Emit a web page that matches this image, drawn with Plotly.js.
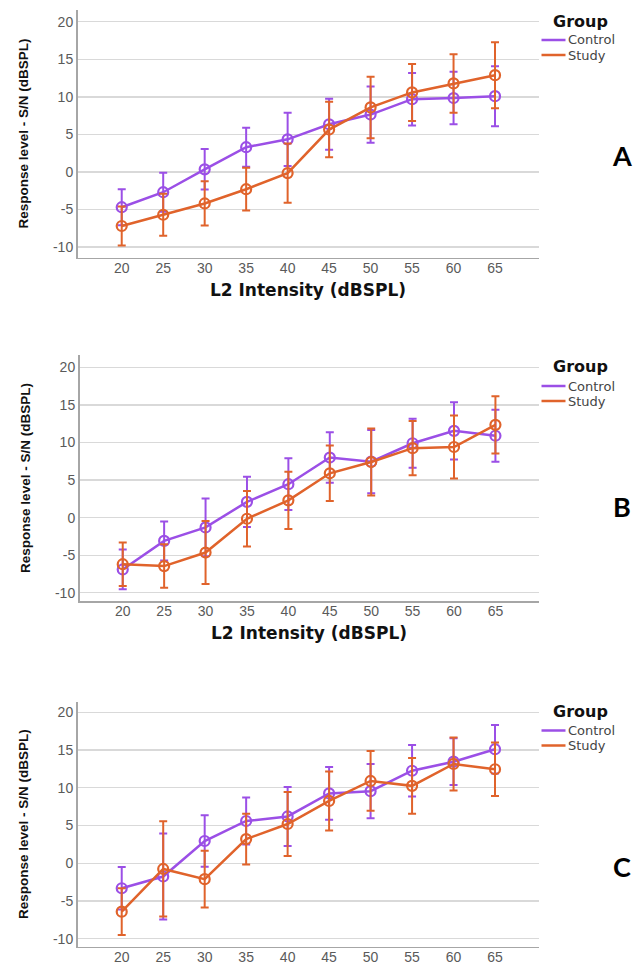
<!DOCTYPE html>
<html><head><meta charset="utf-8">
<script src="https://cdn.plot.ly/plotly-3.0.1.min.js"></script>
<style>html,body{margin:0;padding:0;background:#fff}#chart{width:638px;height:964px}</style>
</head><body><div id="chart"></div>
<script>
// ---- data ----
const intensity = [20, 25, 30, 35, 40, 45, 50, 55, 60, 65];
const yTickVals = [-10, -5, 0, 5, 10, 15, 20];
const yTickText = ['-10', '-5', '0', '5', '10', '15', '20'];
const groupNames = ['Control', 'Study'];
const panelLetters = ['A', 'B', 'C'];

const controlA     = [-4.7, -2.7, 0.35, 3.3, 4.35, 6.35, 7.65, 9.7, 9.85, 10.1];
const controlA_err = [2.4, 2.6, 2.7, 2.6, 3.55, 3.4, 3.75, 3.5, 3.5, 4.0];
const studyA       = [-7.2, -5.7, -4.2, -2.3, -0.15, 5.65, 8.6, 10.6, 11.8, 12.9];
const studyA_err   = [2.6, 2.8, 2.95, 2.85, 3.95, 3.7, 4.1, 3.8, 3.9, 4.4];

const controlB     = [-6.9, -3.1, -1.3, 2.1, 4.45, 8.0, 7.45, 9.9, 11.55, 10.9];
const controlB_err = [2.65, 2.6, 3.85, 3.35, 3.45, 3.35, 4.2, 3.25, 3.8, 3.45];
const studyB       = [-6.2, -6.45, -4.65, -0.15, 2.3, 5.9, 7.4, 9.25, 9.4, 12.35];
const studyB_err   = [2.9, 2.9, 4.2, 3.7, 3.8, 3.7, 4.45, 3.6, 4.2, 3.8];

const controlC     = [-3.3, -1.75, 2.95, 5.6, 6.2, 9.25, 9.55, 12.25, 13.45, 15.1];
const controlC_err = [2.8, 5.7, 3.4, 3.1, 3.9, 3.5, 3.6, 3.4, 3.1, 3.2];
const studyC       = [-6.4, -0.75, -2.1, 3.2, 5.2, 8.25, 10.9, 10.25, 13.15, 12.45];
const studyC_err   = [3.1, 6.3, 3.75, 3.35, 4.25, 3.9, 3.95, 3.7, 3.5, 3.55];

const xTitle = 'L2 Intensity (dBSPL)';
const yTitle = 'Response level - S/N (dBSPL)';

// ---- styling ----
const W = 638, H = 964;
const PURPLE = '#9b4fe6', ORANGE = '#e0632b';
const px = x => x / W;
const py = y => 1 - y / H;

const panels = [
  {ctl: controlA, ctlE: controlA_err, st: studyA, stE: studyA_err,
   x0: 77.5, x1: 538.5, y0: 9.5, y1: 257.5, yr: [-11.4, 21.65], xr: [14.67, 70.24],
   leg: [21.5, 40, 55], letterY: 156, showX: true},
  {ctl: controlB, ctlE: controlB_err, st: studyB, stE: studyB_err,
   x0: 79.5, x1: 538.5, y0: 355, y1: 601, yr: [-11.1, 21.65], xr: [14.78, 70.2],
   leg: [366.7, 386, 401], letterY: 506.5, showX: true},
  {ctl: controlC, ctlE: controlC_err, st: studyC, stE: studyC_err,
   x0: 77.5, x1: 538.5, y0: 701.7, y1: 946.7, yr: [-11.04, 21.39], xr: [14.67, 70.24],
   leg: [711.7, 730.5, 745.5], letterY: 866.5, showX: false}
];

const traces = [];
const layout = {
  width: W, height: H,
  margin: {l: 0, r: 0, t: 0, b: 0},
  paper_bgcolor: '#ffffff', plot_bgcolor: '#ffffff',
  showlegend: false,
  font: {family: 'Liberation Sans, Arial, sans-serif', color: '#555'},
  annotations: [], shapes: []
};

panels.forEach((p, i) => {
  const n = i === 0 ? '' : String(i + 1);
  const xa = 'x' + n, ya = 'y' + n;
  [[p.ctl, p.ctlE, PURPLE, groupNames[0]], [p.st, p.stE, ORANGE, groupNames[1]]].forEach(([vals, errs, col, name]) => {
    traces.push({
      type: 'scatter', mode: 'lines+markers', name: name,
      x: intensity, y: vals, xaxis: xa, yaxis: ya,
      line: {color: col, width: 2.5},
      marker: {symbol: 'circle-open', size: 10, color: col, line: {width: 2.2, color: col}},
      error_y: {type: 'data', array: errs, visible: true, color: col, thickness: 2, width: 4}
    });
  });
  layout['xaxis' + n] = {
    domain: [px(p.x0), px(p.x1)], range: p.xr, anchor: ya,
    tickvals: intensity, ticktext: intensity.map(String),
    showgrid: false, zeroline: false, showline: true, linecolor: '#a6a6a6', linewidth: 1.5,
    ticks: '', ticklabelstandoff: -3,
    tickfont: {size: 14, color: '#5a5a5a', family: 'Liberation Sans, Arial, sans-serif'},
    title: p.showX ? {text: xTitle, standoff: 9,
      font: {family: 'DejaVu Sans, Verdana, sans-serif', size: 17, color: '#111', weight: 'bold'}} : {text: ''},
    fixedrange: true
  };
  layout['yaxis' + n] = {
    domain: [py(p.y1), py(p.y0)], range: p.yr, anchor: xa,
    tickvals: yTickVals, ticktext: yTickText,
    showgrid: true, gridcolor: '#d9d9d9', gridwidth: 1.2,
    zeroline: false, showline: true, linecolor: '#a6a6a6', linewidth: 1.5,
    ticks: '', tickfont: {size: 14, color: '#5a5a5a', family: 'Liberation Sans, Arial, sans-serif'},
    title: {text: yTitle, standoff: 21,
      font: {family: 'Liberation Sans, Arial, sans-serif', size: 13.5, color: '#111', weight: 'bold'}},
    fixedrange: true
  };
  // legend drawn with annotations / shapes (tight SPSS spacing)
  layout.annotations.push({
    xref: 'paper', yref: 'paper', x: px(551), y: py(p.leg[0]), xanchor: 'left', yanchor: 'middle',
    text: '<b>Group</b>', showarrow: false,
    font: {family: 'DejaVu Sans, Verdana, sans-serif', size: 16, color: '#111'}
  });
  [[groupNames[0], PURPLE, p.leg[1]], [groupNames[1], ORANGE, p.leg[2]]].forEach(([t, col, yy]) => {
    layout.shapes.push({type: 'line', xref: 'paper', yref: 'paper',
      x0: px(541.5), x1: px(565.5), y0: py(yy), y1: py(yy), line: {color: col, width: 2.5}});
    layout.annotations.push({
      xref: 'paper', yref: 'paper', x: px(566.5), y: py(yy), xanchor: 'left', yanchor: 'middle',
      text: t, showarrow: false, borderpad: 0,
      font: {family: 'DejaVu Sans, Verdana, sans-serif', size: 13, color: '#444'}
    });
  });
  layout.annotations.push({
    xref: 'paper', yref: 'paper', x: px(622), y: py(p.letterY), xanchor: 'center', yanchor: 'middle',
    text: '<b>' + panelLetters[i] + '</b>', showarrow: false,
    font: {family: 'Lato, Open Sans, sans-serif', size: 27, color: '#000'}
  });
});

Plotly.newPlot('chart', traces, layout, {staticPlot: true, displayModeBar: false});
</script>
</body></html>
